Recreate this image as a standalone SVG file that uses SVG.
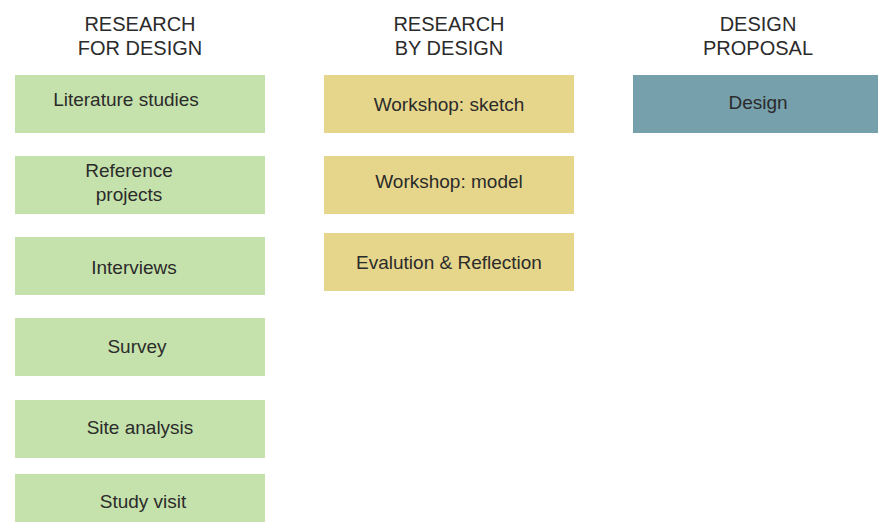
<svg xmlns="http://www.w3.org/2000/svg" width="878" height="522" viewBox="0 0 878 522">
<style>
.hd{font-family:"Liberation Sans",Arial,sans-serif;font-size:20px;fill:#2b2b2b;text-anchor:middle}
.tx{font-family:"Liberation Sans",Arial,sans-serif;font-size:19px;fill:#2b2b2b;text-anchor:middle}
.g{fill:#c6e2ac}
.y{fill:#e6d68c}
.b{fill:#76a0ab}
</style>
<rect width="878" height="522" fill="#ffffff"/>
<g id="header-rfd"><text class="hd" x="140" y="31">RESEARCH</text><text class="hd" x="140" y="55">FOR DESIGN</text></g>
<g id="header-rbd"><text class="hd" x="449" y="31">RESEARCH</text><text class="hd" x="449" y="55">BY DESIGN</text></g>
<g id="header-dp"><text class="hd" x="758" y="31">DESIGN</text><text class="hd" x="758" y="55">PROPOSAL</text></g>
<g id="literature"><rect class="g" x="15" y="75" width="250" height="58"/><text class="tx" x="126" y="106">Literature studies</text></g>
<g id="reference"><rect class="g" x="15" y="156" width="250" height="58"/><text class="tx" x="129" y="177">Reference</text><text class="tx" x="129" y="201">projects</text></g>
<g id="interviews"><rect class="g" x="15" y="237" width="250" height="58"/><text class="tx" x="134" y="274">Interviews</text></g>
<g id="survey"><rect class="g" x="15" y="318" width="250" height="58"/><text class="tx" x="137" y="353">Survey</text></g>
<g id="site"><rect class="g" x="15" y="400" width="250" height="58"/><text class="tx" x="140" y="434">Site analysis</text></g>
<g id="study"><rect class="g" x="15" y="474" width="250" height="48"/><text class="tx" x="143" y="508">Study visit</text></g>
<g id="sketch"><rect class="y" x="324" y="75" width="250" height="58"/><text class="tx" x="449" y="111">Workshop: sketch</text></g>
<g id="model"><rect class="y" x="324" y="156" width="250" height="58"/><text class="tx" x="449" y="188">Workshop: model</text></g>
<g id="evaluation"><rect class="y" x="324" y="233" width="250" height="58"/><text class="tx" x="449" y="269">Evalution &amp; Reflection</text></g>
<g id="design"><rect class="b" x="633" y="75" width="245" height="58"/><text class="tx" x="758" y="109">Design</text></g>
<g id="connectors"/>
</svg>
